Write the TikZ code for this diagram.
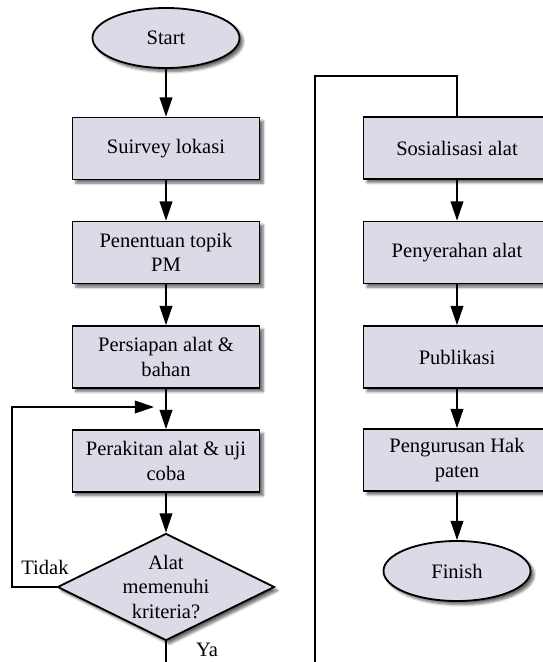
\documentclass[tikz,border=0pt]{standalone}
\usepackage{fontspec}
\setmainfont{Liberation Serif}
\usepackage{tikz}
\usetikzlibrary{shapes.geometric, arrows.meta, shadows, shadows.blur}
\definecolor{boxfill}{HTML}{DDD9E6}
\tikzset{
	basenode/.style={
			draw=black,
			line width=1.3pt,
			fill=boxfill,
			align=center,
			inner sep=0pt,
			font=\fontsize{14.6}{17.5}\selectfont,
			blur shadow={shadow xshift=2.5pt, shadow yshift=-2.5pt, shadow blur steps=6, shadow opacity=60}
		},
	procnode/.style={
			basenode,
			rectangle,
			minimum width=4.675cm,
			minimum height=1.55cm
		},
	termnode/.style={
			basenode,
			ellipse,
			minimum width=3.675cm,
			minimum height=1.5cm
		},
	decnode/.style={
			basenode,
			diamond,
			minimum width=5.425cm,
			minimum height=2.675cm,
			aspect=2
		},
	labelnode/.style={
			font=\fontsize{14.6}{17.5}\selectfont
		},
	flowline/.style={
			line width=0.9pt,
			-{Triangle[length=0.48cm, width=0.32cm]}
		},
	plainline/.style={
			line width=0.9pt
		}
}

\begin{document}
\begin{tikzpicture}[x=0.025cm, y=-0.025cm]
\useasboundingbox (0,0) rectangle (543,662);
\clip (0,0) rectangle (543,662);
\node[termnode] (n1) at (166,38)  {Start};
\node[procnode] (n2) at (166,148.5)  {Suirvey lokasi};
\node[procnode] (n3) at (166,252.5)  {Penentuan topik\\PM};
\node[procnode] (n4) at (166,357)  {Persiapan alat \&\\bahan};
\node[procnode] (n5) at (166,461)  {Perakitan alat \& uji\\coba};
\node[decnode] (n6) at (166,587)  {Alat\\memenuhi\\kriteria?};

\node[procnode] (n7) at (457,148)  {Sosialisasi alat};
\node[procnode] (n8) at (457,252.5)  {Penyerahan alat};
\node[procnode] (n9) at (457,357)  {Publikasi};
\node[procnode] (n10) at (457,460)  {Pengurusan Hak\\paten};
\node[termnode] (n11) at (457,571)  {Finish};

\coordinate (c1) at (154,407);
\coordinate (c2) at (12,587);
\coordinate (c3) at (166,680);
\coordinate (c4) at (315,680);
\coordinate (c5) at (315,76);

\draw[flowline] (n1) -- (n2);
\draw[flowline] (n2) -- (n3);
\draw[flowline] (n3) -- (n4);
\draw[flowline] (n4) -- (n5);
\draw[flowline] (n5) -- (n6);

\draw[flowline] (n6.west) -- node[labelnode, pos=0.26, above, yshift=5pt] {Tidak} (c2) |- (c1);
\draw[plainline] (n6.south) -- node[labelnode, pos=0.22, right, xshift=0.62cm] {Ya} (c3);

\draw[plainline] (c4) -- (c5) -| (n7.north);
\draw[flowline] (n7) -- (n8);
\draw[flowline] (n8) -- (n9);
\draw[flowline] (n9) -- (n10);
\draw[flowline] (n10) -- (n11);
\end{tikzpicture}
\end{document}
